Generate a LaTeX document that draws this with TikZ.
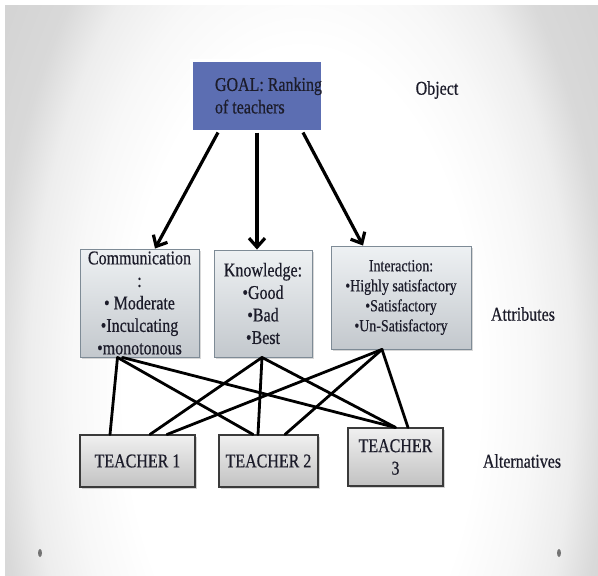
\documentclass[tikz,border=0pt]{standalone}
\usepackage{fontspec}
\setmainfont{Liberation Serif}[FakeStretch=0.82, FakeBold=0.5]
\usetikzlibrary{arrows.meta,shadows}

\definecolor{goalblue}{HTML}{5C6EB2}
\definecolor{inktext}{HTML}{1C1C2A}
\definecolor{attrtop}{HTML}{EEF1F3}
\definecolor{attrbot}{HTML}{C3C8CD}
\definecolor{attrline}{HTML}{7E8B96}
\definecolor{alttop}{HTML}{F0F0F0}
\definecolor{altbot}{HTML}{C2C2C2}
\definecolor{altline}{HTML}{3A3A3A}

% path box edge = 25bp
\pgfdeclareradialshading{slidebg}{\pgfpoint{0bp}{0bp}}{color(0bp)=(white); color(15bp)=(white); color(19.5bp)=(black!3); color(23bp)=(black!7); color(26bp)=(black!15); color(30bp)=(black!17); color(100bp)=(black!17)}

\tikzset{
  bigtext/.style={font=\fontsize{19.5}{22.5}\selectfont, text=inktext},
  attrbox/.style={bigtext, draw=attrline, line width=0.9pt, top color=attrtop, bottom color=attrbot,
    inner xsep=0pt, inner ysep=0pt, align=center,
    drop shadow={shadow xshift=1.5pt, shadow yshift=-1.5pt, opacity=0.3}},
  altbox/.style={bigtext, draw=altline, line width=1.1pt, top color=alttop, bottom color=altbot,
    inner xsep=0pt, inner ysep=0pt, align=center,
    drop shadow={shadow xshift=1.5pt, shadow yshift=-1.5pt, opacity=0.35}},
  tie/.style={line width=2.8pt, line cap=round},
  pointer/.style={line width=3.2pt, -{Straight Barb[length=9pt,width=16pt]}},
  sidelabel/.style={bigtext}
}

\begin{document}
\begin{tikzpicture}[x=1pt,y=-1pt]
\useasboundingbox (0,0) rectangle (598,576);
% slide background
\begin{scope}
\clip (5,5) rectangle (598,576);
\shade[shading=slidebg] (5,-170) rectangle (598,930);
\end{scope}
\fill[black!55] (40,553) ellipse (2pt and 4pt);
\fill[black!55] (559,553) ellipse (2pt and 4pt);

% goal
\node (goal) [bigtext, fill=goalblue, draw=white, line width=3pt, inner sep=0pt,
  minimum width=131pt, minimum height=71pt,
  drop shadow={shadow xshift=1pt, shadow yshift=-1pt, opacity=0.25}]
  at (256.5,95.5) {\hspace*{24pt}\parbox{107pt}{GOAL: Ranking\\of teachers}};
\node (object) [sidelabel] at (437,90) {Object};

% attributes
\node (comm) [attrbox, minimum width=119pt, minimum height=108pt] at (139.5,303)
  {Communication\\:\\• Moderate\\•Inculcating\\•monotonous};
\node (know) [attrbox, minimum width=98pt, minimum height=107pt] at (263,303.5)
  {Knowledge:\\•Good\\•Bad\\•Best};
\node (inter) [attrbox, minimum width=140pt, minimum height=103pt,
  font=\fontsize{17}{20}\selectfont] at (401,297.5)
  {Interaction:\\•Highly satisfactory\\•Satisfactory\\•Un-Satisfactory};
\node (attributes) [sidelabel] at (523,314) {Attributes};

% alternatives
\node (t1) [altbox, minimum width=115pt, minimum height=52pt] at (137.5,461) {TEACHER 1};
\node (t2) [altbox, minimum width=99pt, minimum height=52pt] at (268.5,461) {TEACHER 2};
\node (t3) [altbox, minimum width=95pt, minimum height=58pt] at (395.5,457) {TEACHER\\3};
\node (alternatives) [sidelabel] at (522,461) {Alternatives};

% goal to attributes
\draw [pointer] ([xshift=-38.5pt]goal.south) -- ([xshift=15.5pt]comm.north);
\draw [pointer] ([xshift=0.5pt]goal.south) -- ([xshift=-6pt]know.north);
\draw [pointer] ([xshift=46.5pt]goal.south) -- ([xshift=-38pt]inter.north);

% attributes to alternatives
\draw [tie] ([xshift=-22pt]comm.south) -- ([xshift=-27.5pt]t1.north);
\draw [tie] ([xshift=-22pt]comm.south) -- ([xshift=-15.5pt]t2.north);
\draw [tie] ([xshift=-17pt]comm.south) -- (t3.north);
\draw [tie] ([xshift=-1pt]know.south) -- ([xshift=12.5pt]t1.north);
\draw [tie] ([xshift=-1pt]know.south) -- ([xshift=-10.5pt]t2.north);
\draw [tie] ([xshift=-1pt]know.south) -- (t3.north);
\draw [tie] ([xshift=-19pt]inter.south) -- ([xshift=29.5pt]t1.north);
\draw [tie] ([xshift=-19pt]inter.south) -- ([xshift=16.5pt]t2.north);
\draw [tie] ([xshift=-19pt]inter.south) -- ([xshift=12.5pt]t3.north);
\end{tikzpicture}
\end{document}
